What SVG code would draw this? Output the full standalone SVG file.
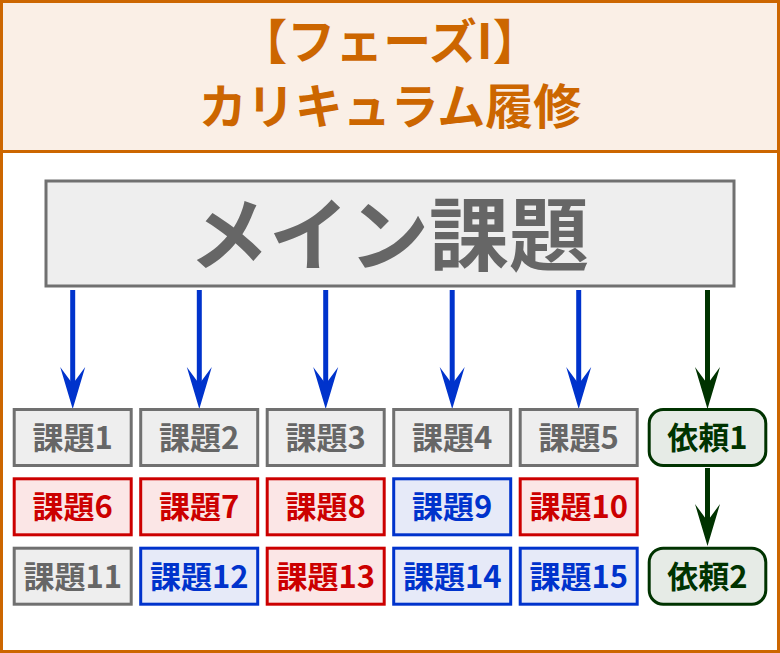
<svg xmlns="http://www.w3.org/2000/svg" width="780" height="653" viewBox="0 0 780 653">
<style>
text{font-family:"Noto Sans CJK JP","Noto Sans",sans-serif;font-weight:bold;text-anchor:middle}
.hd{fill:#CC6600;font-size:48px}
.box{stroke-width:3}
.g rect{fill:#EEEEEE;stroke:#707070}
.g text{fill:#666666}
.r rect{fill:#FBE6E6;stroke:#CC0000}
.r text{fill:#CC0000}
.b rect{fill:#E6EAF8;stroke:#0033CC}
.b text{fill:#0033CC}
.n rect{fill:#E6EBE6;stroke:#003300}
.n text{fill:#003300}
.t{font-size:31px}
.ab{stroke:#0033CC;stroke-width:5;fill:none}
.ag{stroke:#003300;stroke-width:5;fill:none}
</style>
<defs>
<marker id="mb" markerUnits="userSpaceOnUse" viewBox="0 -13 42 26" markerWidth="42" markerHeight="26" refX="20" refY="0" orient="auto">
<path d="M42,0 L0,-12.5 L17,0 L0,12.5 Z" fill="#0033CC"/>
</marker>
<marker id="mg" markerUnits="userSpaceOnUse" viewBox="0 -13 42 26" markerWidth="42" markerHeight="26" refX="20" refY="0" orient="auto">
<path d="M42,0 L0,-12.5 L17,0 L0,12.5 Z" fill="#003300"/>
</marker>
</defs>
<rect x="0" y="0" width="780" height="653" fill="#FFFFFF"/>
<rect x="1.5" y="1.5" width="777" height="150" fill="#FAEFE6"/>
<line x1="0" y1="151.5" x2="780" y2="151.5" stroke="#CC6600" stroke-width="3"/>
<rect x="1.5" y="1.5" width="777" height="650" fill="none" stroke="#CC6600" stroke-width="3"/>
<g id="header">
<text class="hd" x="390" y="59">【フェーズI】</text>
<text class="hd" x="390" y="124">カリキュラム履修</text>
</g>
<g id="main" class="g box">
<rect x="46" y="181" width="688" height="105" stroke-width="3"/>
<text x="389" y="264" style="font-size:80px">メイン課題</text>
</g>
<g id="connectors">
<line class="ab" x1="72.7" y1="290" x2="72.7" y2="387" marker-end="url(#mb)"/>
<line class="ab" x1="199.3" y1="290" x2="199.3" y2="387" marker-end="url(#mb)"/>
<line class="ab" x1="325.7" y1="290" x2="325.7" y2="387" marker-end="url(#mb)"/>
<line class="ab" x1="452.2" y1="290" x2="452.2" y2="387" marker-end="url(#mb)"/>
<line class="ab" x1="578.7" y1="290" x2="578.7" y2="387" marker-end="url(#mb)"/>
<line class="ag" x1="707.5" y1="290" x2="707.5" y2="387" marker-end="url(#mg)"/>
<line class="ag" x1="707.5" y1="468" x2="707.5" y2="524" marker-end="url(#mg)"/>
</g>
<g id="k1" class="g box"><rect x="14.2" y="409.5" width="117" height="56"/><text class="t" x="72.7" y="448.5">課題1</text></g>
<g id="k2" class="g box"><rect x="140.7" y="409.5" width="117" height="56"/><text class="t" x="199.2" y="448.5">課題2</text></g>
<g id="k3" class="g box"><rect x="267.2" y="409.5" width="117" height="56"/><text class="t" x="325.7" y="448.5">課題3</text></g>
<g id="k4" class="g box"><rect x="393.7" y="409.5" width="117" height="56"/><text class="t" x="452.2" y="448.5">課題4</text></g>
<g id="k5" class="g box"><rect x="520.2" y="409.5" width="117" height="56"/><text class="t" x="578.7" y="448.5">課題5</text></g>
<g id="i1" class="n box"><rect x="649.2" y="409.5" width="116.6" height="56" rx="14"/><text class="t" x="707.5" y="448.5">依頼1</text></g>
<g id="k6" class="r box"><rect x="14.2" y="478.8" width="117" height="56"/><text class="t" x="72.7" y="518">課題6</text></g>
<g id="k7" class="r box"><rect x="140.7" y="478.8" width="117" height="56"/><text class="t" x="199.2" y="518">課題7</text></g>
<g id="k8" class="r box"><rect x="267.2" y="478.8" width="117" height="56"/><text class="t" x="325.7" y="518">課題8</text></g>
<g id="k9" class="b box"><rect x="393.7" y="478.8" width="117" height="56"/><text class="t" x="452.2" y="518">課題9</text></g>
<g id="k10" class="r box"><rect x="520.2" y="478.8" width="117" height="56"/><text class="t" x="578.7" y="518">課題10</text></g>
<g id="k11" class="g box"><rect x="14.2" y="548.2" width="117" height="56"/><text class="t" x="72.7" y="587.5">課題11</text></g>
<g id="k12" class="b box"><rect x="140.7" y="548.2" width="117" height="56"/><text class="t" x="199.2" y="587.5">課題12</text></g>
<g id="k13" class="r box"><rect x="267.2" y="548.2" width="117" height="56"/><text class="t" x="325.7" y="587.5">課題13</text></g>
<g id="k14" class="b box"><rect x="393.7" y="548.2" width="117" height="56"/><text class="t" x="452.2" y="587.5">課題14</text></g>
<g id="k15" class="b box"><rect x="520.2" y="548.2" width="117" height="56"/><text class="t" x="578.7" y="587.5">課題15</text></g>
<g id="i2" class="n box"><rect x="649.2" y="548.2" width="116.6" height="56" rx="14"/><text class="t" x="707.5" y="587.5">依頼2</text></g>
</svg>
